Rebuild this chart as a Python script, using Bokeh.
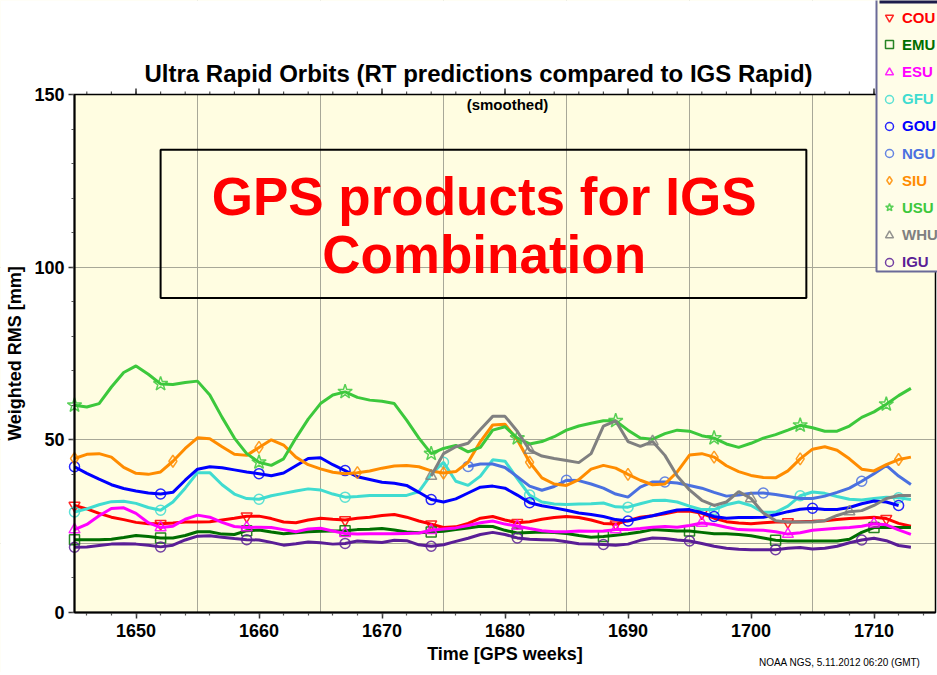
from bokeh.plotting import figure
from bokeh.models import (FixedTicker, LinearAxis, Legend, LegendItem, Label,
                          BoxAnnotation, Grid)
from bokeh.embed import file_html
from bokeh.resources import INLINE

nan = float("nan")

# ---------------- data ----------------
WEEKS = list(range(1645, 1714))

COU = [31.0, 30.0, 28.7, 27.6, 26.9, 26.1, 25.7, 25.7, 25.9, 26.2,
       26.2, 26.3, 26.8, 27.3, 27.9, 27.9, 27.2, 26.2, 26.0, 26.8,
       27.3, 27.0, 26.8, 27.3, 27.6, 28.1, 28.4, 27.6, 26.5, 25.6,
       24.6, 24.8, 25.8, 27.3, 27.8, 26.8, 26.0, 26.3, 27.0, 27.5,
       27.8, 27.5, 26.8, 25.8, 25.6, 26.6, 27.6, 28.0, 28.6, 29.3,
       29.4, 28.7, 27.3, 26.3, 25.9, 25.7, 26.0, 26.2, 26.2, 26.3,
       26.4, 26.6, 26.9, 27.2, 27.4, 27.6, 27.2, 25.8, 25.0]

EMU = [21.1, 21.1, 21.1, 21.2, 21.7, 22.3, 22.0, 21.6, 21.6, 22.3,
       23.4, 23.4, 22.7, 22.6, 23.7, 23.9, 23.3, 22.8, 23.1, 23.4,
       23.5, 23.6, 23.7, 24.0, 24.1, 24.3, 23.9, 23.3, 23.1, 23.3,
       23.5, 24.0, 24.5, 25.0, 24.9, 23.8, 23.0, 23.2, 23.3, 23.2,
       22.9, 22.3, 21.8, 22.0, 22.4, 22.8, 23.3, 24.0, 23.8, 23.6,
       23.6, 23.2, 22.8, 22.8, 22.6, 22.2, 21.6, 20.9, 20.7, 20.7,
       20.7, 20.7, 20.7, 21.2, 23.2, 24.6, 24.7, 24.6, 24.6]

ESU = [24.0, 25.5, 28.0, 30.1, 30.3, 28.7, 26.0, 24.6, 25.0, 27.0,
       28.2, 27.6, 26.1, 24.9, 24.6, 24.7, 24.6, 24.0, 23.4, 24.2,
       24.4, 23.6, 22.9, 22.7, 22.8, 22.8, 22.8, 22.9, 23.0, 23.8,
       24.2, 24.5, 25.2, 26.0, 26.5, 25.6, 25.0, 24.3, 23.7, 23.4,
       23.4, 23.6, 23.5, 23.6, 24.0, 24.0, 24.3, 24.7, 24.9, 24.7,
       25.2, 25.9, 25.5, 24.7, 24.0, 23.9, 23.8, 23.4, 22.7, 23.1,
       23.8, 24.1, 24.4, 24.6, 25.0, 25.7, 25.4, 23.9, 22.6]

GFU = [29.1, 30.0, 31.2, 32.1, 32.2, 31.6, 30.4, 29.6, 32.0, 36.0,
       40.5, 40.5, 37.0, 34.3, 33.0, 32.8, 33.8, 34.5, 35.2, 35.8,
       35.5, 34.3, 33.4, 33.6, 33.9, 33.9, 33.9, 33.9, 35.0, 40.0,
       43.5, 38.0, 36.8, 39.5, 44.2, 43.8, 38.8, 34.0, 32.0, 31.4,
       31.3, 31.4, 31.5, 31.7, 30.6, 30.5, 31.5, 32.4, 32.5, 32.0,
       30.8, 29.8, 29.8, 31.2, 32.0, 31.0, 29.0, 29.0, 30.8, 33.8,
       34.9, 34.5, 33.6, 32.8, 32.6, 33.0, 33.4, 33.2, 32.7]

GOU = [42.2, 40.3, 38.6, 37.0, 35.9, 35.2, 34.6, 34.3, 34.8, 38.3,
       41.5, 42.2, 41.9, 41.3, 40.7, 40.2, 39.6, 40.4, 42.5, 44.6,
       44.8, 42.8, 41.1, 39.3, 38.5, 37.7, 37.4, 36.8, 34.8, 32.7,
       32.0, 32.9, 34.6, 36.3, 36.6, 36.0, 34.0, 31.8, 30.9, 30.3,
       29.6, 28.8, 28.4, 27.8, 26.9, 26.5, 27.3, 28.0, 28.9, 29.7,
       29.8, 28.9, 27.8, 27.3, 27.5, 27.5, 27.6, 28.3, 29.2, 29.9,
       30.2, 29.8, 29.8, 30.4, 31.5, 32.3, 32.0, 31.0, nan]

NGU = [nan] * 32 + [
       42.3, 43.0, 43.0, 42.0, 39.3, 36.6, 35.4, 36.5, 38.3, 38.2,
       37.2, 36.0, 34.3, 33.4, 36.3, 37.8, 37.8, 37.5, 36.8, 36.0,
       34.8, 33.7, 34.0, 34.5, 34.6, 34.2, 33.6, 33.0, 33.0, 33.7,
       34.8, 36.0, 38.0, 40.2, 42.6, 39.5, 37.1]

SIU = [44.6, 45.8, 46.0, 45.0, 42.0, 40.3, 40.0, 40.7, 43.8, 47.5,
       50.6, 50.3, 48.0, 45.8, 45.5, 47.8, 50.0, 48.5, 45.0, 42.8,
       41.6, 40.6, 40.2, 40.5, 41.0, 41.8, 42.4, 42.6, 42.2, 41.0,
       40.4, 40.8, 43.5, 49.5, 54.3, 54.5, 50.0, 43.5, 39.0, 37.2,
       36.8, 38.5, 41.5, 42.6, 41.8, 40.0, 38.3, 37.0, 37.2, 40.7,
       45.6, 46.0, 45.0, 42.5, 40.8, 39.7, 39.1, 39.0, 41.0, 44.5,
       47.3, 48.0, 47.0, 44.5, 41.5, 41.0, 42.8, 44.3, 45.0]

USU = [60.0, 59.5, 60.5, 65.3, 69.5, 71.4, 69.0, 66.2, 66.0, 66.6,
       67.0, 63.0, 56.5, 50.5, 46.0, 43.5, 42.6, 44.5, 50.5, 56.0,
       60.5, 63.0, 63.9, 62.3, 61.5, 61.2, 60.5, 55.7, 50.5, 46.0,
       47.5, 48.4, 46.5, 47.8, 52.8, 53.8, 50.5, 48.8, 49.5, 50.9,
       52.8, 54.0, 54.8, 55.5, 55.5, 52.8, 50.5, 50.2, 51.8, 52.8,
       52.5, 51.2, 50.5, 48.8, 47.8, 49.0, 50.5, 51.5, 52.8, 54.2,
       53.5, 52.5, 52.5, 54.0, 56.5, 58.1, 60.3, 62.8, 64.9]

WHU = [nan] * 29 + [
       39.5, 46.0, 48.0, 49.0, 53.0, 56.8, 56.8, 52.5, 47.0, 45.3,
       44.6, 44.0, 43.4, 46.0, 54.0, 55.5, 49.5, 48.1, 49.5, 45.5,
       39.5, 35.5, 32.5, 31.0, 32.0, 35.0, 33.0, 28.8, 26.6, 26.2,
       26.2, 26.2, 26.6, 28.1, 29.2, 29.5, 31.0, 33.0, 33.9, 33.9]

IGU = [18.9, 19.0, 19.4, 19.8, 19.9, 19.8, 19.5, 19.0, 19.5, 21.0,
       22.1, 22.2, 21.8, 21.4, 21.1, 21.0, 20.3, 19.5, 19.9, 20.4,
       20.2, 19.8, 20.0, 20.7, 20.5, 20.3, 20.9, 20.8, 19.6, 19.2,
       19.6, 20.6, 21.5, 22.6, 23.2, 22.6, 21.6, 21.2, 21.1, 21.0,
       20.5, 19.9, 19.8, 19.7, 19.5, 19.8, 20.9, 21.6, 21.4, 21.0,
       20.7, 20.0, 19.2, 18.6, 18.3, 18.2, 18.2, 18.2, 18.6, 18.8,
       18.4, 18.6, 19.2, 20.2, 21.0, 21.5, 20.8, 19.4, 18.9]

NAMES = ["COU", "EMU", "ESU", "GFU", "GOU", "NGU", "SIU", "USU", "WHU", "IGU"]
SERIES = [COU, EMU, ESU, GFU, GOU, NGU, SIU, USU, WHU, IGU]

# weeks at which the symbol of each series is drawn
MARKER_WEEKS = [
    [1645, 1652, 1659, 1667, 1674, 1681, 1689, 1696, 1703, 1711],  # COU
    [1645, 1652, 1659, 1667, 1674, 1681, 1688, 1695, 1702, 1710],  # EMU
    [1645, 1652, 1659, 1667, 1674, 1681, 1689, 1696, 1703, 1710],  # ESU
    [1645, 1652, 1660, 1667, 1675, 1682, 1690, 1697, 1704, 1712],  # GFU
    [1645, 1652, 1660, 1667, 1674, 1682, 1690, 1697, 1705, 1712],  # GOU
    [1677, 1685, 1693, 1701, 1709],                                # NGU
    [1645, 1653, 1660, 1668, 1675, 1682, 1690, 1697, 1704, 1712],  # SIU
    [1645, 1652, 1660, 1667, 1674, 1681, 1689, 1697, 1704, 1711],  # USU
    [1674, 1682, 1692, 1700, 1708],                                # WHU
    [1645, 1652, 1659, 1667, 1674, 1681, 1688, 1695, 1702, 1709],  # IGU
]

X_MIN, X_MAX = 1645, 1715
Y_MIN, Y_MAX = 0, 150
X_TICKS = [1650, 1660, 1670, 1680, 1690, 1700, 1710]
X_MINOR = list(range(1646, 1716, 2))
X_GRID = [1655, 1665, 1675, 1685, 1695, 1705]
Y_TICKS = [0, 50, 100, 150]
Y_MINOR = list(range(0, 151, 10))
Y_GRID = [20, 50, 100]

TITLE = "Ultra Rapid Orbits (RT predictions compared to IGS Rapid)"
SUBTITLE = "(smoothed)"
BANNER = ["GPS products for IGS", "Combination"]
FOOTER = "NOAA NGS, 5.11.2012 06:20 (GMT)"
X_LABEL = "Time [GPS weeks]"
Y_LABEL = "Weighted RMS [mm]"

# ---------------- style / layout ----------------
COLORS = ["#ff0000", "#006e00", "#ff00ff", "#40dcd0", "#0000ff",
          "#4a70e0", "#ff8c00", "#3cc83c", "#808080", "#5a1e96"]
MARKERS = ["inverted_triangle", "square", "triangle", "circle", "circle",
           "circle", "diamond", "star", "triangle", "circle"]
MSIZES = [11, 10, 11, 10, 10, 10, 12, 15, 11, 10]
FONT = "Liberation Sans"

W, H = 937, 672
PL, PT, PB = 74, 94, 612          # plot-box left, top, bottom in canvas px
PXW = 12.3                         # px per week
PXY = (PB - PT) / (Y_MAX - Y_MIN)  # px per mm

x_start = X_MIN - PL / PXW
x_end = X_MIN + (W - PL) / PXW
y_start = Y_MIN - (H - PB) / PXY
y_end = Y_MAX + PT / PXY

p = figure(width=W, height=H, x_range=(x_start, x_end), y_range=(y_start, y_end),
           output_backend="svg", toolbar_location=None, min_border=0,
           x_axis_type=None, y_axis_type=None,
           background_fill_color="#fffde1", border_fill_color="white",
           outline_line_color=None)

# grid (added first so that the white margins cover it)
p.add_layout(Grid(dimension=0, ticker=FixedTicker(ticks=X_GRID),
                  grid_line_color="#a8a898", grid_line_width=1))
p.add_layout(Grid(dimension=1, ticker=FixedTicker(ticks=Y_GRID),
                  grid_line_color="#a8a898", grid_line_width=1))

# white margins around the plot box (hide the grid outside it)
for kw in (dict(bottom=Y_MAX), dict(top=Y_MIN), dict(right=X_MIN), dict(left=X_MAX)):
    p.add_layout(BoxAnnotation(level="underlay", fill_color="white", fill_alpha=1.0,
                               line_alpha=0, **kw))

xaxis = LinearAxis(fixed_location=Y_MIN, bounds=(X_MIN, X_MAX),
                   ticker=FixedTicker(ticks=X_TICKS, minor_ticks=X_MINOR),
                   axis_label=X_LABEL)
yaxis = LinearAxis(fixed_location=X_MIN, bounds=(Y_MIN, Y_MAX),
                   ticker=FixedTicker(ticks=Y_TICKS, minor_ticks=Y_MINOR),
                   axis_label=Y_LABEL)
p.add_layout(xaxis, "below")
p.add_layout(yaxis, "left")

for ax in (xaxis, yaxis):
    ax.axis_line_color = "black"
    ax.axis_line_width = 2
    ax.major_tick_line_color = "#333333"
    ax.major_tick_line_width = 1.5
    ax.minor_tick_line_color = "#555555"
    ax.minor_tick_line_width = 1.2
    ax.major_tick_out = 6
    ax.major_tick_in = 0
    ax.minor_tick_out = 3
    ax.minor_tick_in = 0
    ax.major_label_text_font = FONT
    ax.major_label_text_font_style = "bold"
    ax.major_label_text_font_size = "18px"
    ax.major_label_text_color = "black"
    ax.axis_label_text_font = FONT
    ax.axis_label_text_font_style = "bold"
    ax.axis_label_text_font_size = "18px"
    ax.axis_label_text_color = "black"
    ax.axis_label_standoff = 4
yaxis.major_label_standoff = 4
yaxis.axis_label_standoff = 6
xaxis.major_label_standoff = 5

# plot-box border
p.add_layout(BoxAnnotation(left=X_MIN, right=X_MAX, bottom=Y_MIN, top=Y_MAX,
                           fill_alpha=0, line_color="black", line_alpha=1.0,
                           line_width=1.5))

# tick marks along the top border
p.segment(x0=X_MINOR, y0=[Y_MAX] * len(X_MINOR), x1=X_MINOR,
          y1=[Y_MAX + 3 / PXY] * len(X_MINOR), line_color="#555555", line_width=1.2)
p.segment(x0=X_TICKS, y0=[Y_MAX] * len(X_TICKS), x1=X_TICKS,
          y1=[Y_MAX + 6 / PXY] * len(X_TICKS), line_color="#333333", line_width=1.5)

# ---------------- series ----------------
marker_renderers = []
for name, vals, col, mk, ms, mw in zip(NAMES, SERIES, COLORS, MARKERS, MSIZES, MARKER_WEEKS):
    p.line(WEEKS, vals, line_color=col, line_width=3)
    my = [vals[WEEKS.index(w)] for w in mw]
    r = p.scatter(mw, my, marker=mk, size=ms, line_color=col, line_width=1.5,
                  line_alpha=0.85, fill_alpha=0)
    marker_renderers.append(r)

# banner box and texts
p.add_layout(BoxAnnotation(left=1652.0, right=1704.5, bottom=91.1, top=134.0,
                           fill_alpha=0, line_color="black", line_alpha=1.0,
                           line_width=2))
p.add_layout(Label(x=1678.3, y=120.4, text=BANNER[0], text_align="center",
                   text_baseline="middle", text_color="#ff0000", text_font=FONT,
                   text_font_style="bold", text_font_size="53px"))
p.add_layout(Label(x=1678.3, y=103.6, text=BANNER[1], text_align="center",
                   text_baseline="middle", text_color="#ff0000", text_font=FONT,
                   text_font_style="bold", text_font_size="53px"))
p.add_layout(Label(x=1680.2, y=147.2, text=SUBTITLE, text_align="center",
                   text_baseline="middle", text_color="black", text_font=FONT,
                   text_font_style="bold", text_font_size="15px"))

# title and footer (screen units: from the canvas bottom-left)
p.add_layout(Label(x=144, y=H - 73.3, x_units="screen", y_units="screen",
                   text=TITLE, text_align="left", text_baseline="alphabetic",
                   text_color="black", text_font=FONT, text_font_style="bold",
                   text_font_size="24px"))
p.add_layout(Label(x=920, y=H - 662, x_units="screen", y_units="screen",
                   text=FOOTER, text_align="right", text_baseline="middle",
                   text_color="black", text_font=FONT, text_font_size="10px"))

# legend frame (drawn before the legend entries)
p.add_layout(BoxAnnotation(left=876, right=950, top=H + 12, bottom=H - 271,
                           left_units="screen", right_units="screen",
                           top_units="screen", bottom_units="screen",
                           fill_color="#fffde8", fill_alpha=1.0,
                           line_color="#6a6a98", line_alpha=1.0, line_width=2))
p.add_layout(BoxAnnotation(left=879, right=950, top=H + 5, bottom=H - 3,
                           left_units="screen", right_units="screen",
                           top_units="screen", bottom_units="screen",
                           fill_color="#1c1c4a", fill_alpha=1.0, line_alpha=0))

# legend: one entry per series so that each label takes its series colour
for i, (name, col, r) in enumerate(zip(NAMES, COLORS, marker_renderers)):
    item_y = 17.3 + 27.15 * i           # centre of the entry, canvas px from top
    leg = Legend(items=[LegendItem(label=name, renderers=[r])],
                 location=(879, H - item_y - 10),
                 glyph_width=20, glyph_height=20, label_height=20, label_width=30,
                 label_standoff=3, padding=0, margin=0, spacing=0,
                 border_line_alpha=0, background_fill_alpha=0,
                 label_text_color=col, label_text_font=FONT,
                 label_text_font_style="bold", label_text_font_size="15px")
    p.add_layout(leg)

open("out.html", "w").write(file_html(p, INLINE))
